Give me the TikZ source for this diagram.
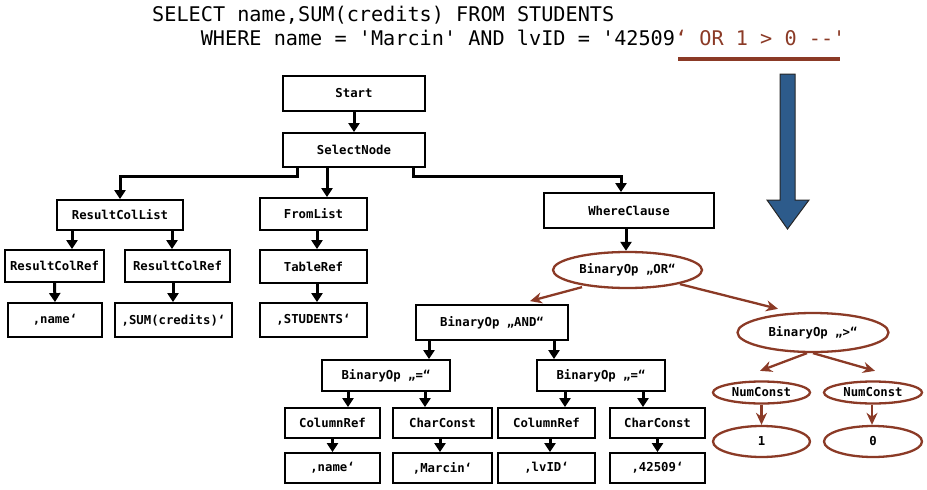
\documentclass[tikz,border=0pt]{standalone}
\usepackage{fontspec}
\setmonofont{DejaVu Sans Mono}
\usetikzlibrary{arrows.meta,shapes.geometric}
\definecolor{sqlred}{HTML}{8B3A26}
\definecolor{arrowblue}{HTML}{2D5B8B}
\begin{document}
\begin{tikzpicture}[x=1pt,y=-1pt,
  box/.style={draw=black,line width=1.8pt,fill=white,rectangle,inner sep=0pt,
    font=\ttfamily\bfseries\fontsize{12.3}{14}\selectfont},
  oval/.style={draw=sqlred,line width=2.3pt,fill=white,ellipse,inner sep=0pt,
    font=\ttfamily\bfseries\fontsize{12.3}{14}\selectfont},
  conn/.style={draw=black,line width=3pt,-{Triangle[length=9pt,width=11pt]}},
  redconn/.style={draw=sqlred,line width=2.3pt,-{Stealth[length=12pt,width=11pt]}},
  titletext/.style={anchor=base west,inner sep=0pt,
    font=\ttfamily\fontsize{20.2}{24}\selectfont}
]
\useasboundingbox (0,0) rectangle (927,490);

% title
\node[titletext] (t1) at (152,21.5) {SELECT name,SUM(credits) FROM STUDENTS};
\node[titletext] (t2) at (200.6,45) {WHERE name = 'Marcin' AND lvID = '42509\textcolor{sqlred}{‘ OR 1 > 0 --'}};
\draw[sqlred,line width=4pt] (678,59) -- (840,59);

% big blue arrow
\draw[fill=arrowblue,draw=black!85,line width=1pt]
  (780,74) -- (795,74) -- (795,200) -- (809,200) -- (787.5,229) -- (767,200) -- (780,200) -- cycle;

% boxes
\node[box,minimum width=142pt,minimum height=35pt] (start) at (354,93.5) {Start};
\node[box,minimum width=142pt,minimum height=34pt] (select) at (354,150) {SelectNode};
\node[box,minimum width=126pt,minimum height=30pt] (rclist) at (120,215) {ResultColList};
\node[box,minimum width=99pt,minimum height=32pt] (rcref1) at (54.5,266) {ResultColRef};
\node[box,minimum width=105pt,minimum height=32pt] (rcref2) at (177.5,266) {ResultColRef};
\node[box,minimum width=94pt,minimum height=34pt] (vname1) at (55,320) {‚name‘};
\node[box,minimum width=117pt,minimum height=34pt] (vsum) at (173.5,320) {‚SUM(credits)‘};
\node[box,minimum width=107pt,minimum height=32pt] (fromlist) at (313.5,214) {FromList};
\node[box,minimum width=107pt,minimum height=33pt] (tableref) at (313.5,266.5) {TableRef};
\node[box,minimum width=107pt,minimum height=34pt] (vstud) at (313.5,320) {‚STUDENTS‘};
\node[box,minimum width=170pt,minimum height=35pt] (where) at (629,210.5) {WhereClause};
\node[oval,minimum width=149pt,minimum height=36pt] (opor) at (627.5,270) {BinaryOp „OR“};
\node[box,minimum width=152pt,minimum height=35pt] (opand) at (492,322.5) {BinaryOp „AND“};
\node[oval,minimum width=151pt,minimum height=39pt] (opgt) at (813,332.5) {BinaryOp „>“};
\node[box,minimum width=128pt,minimum height=31pt] (eq1) at (386,375.5) {BinaryOp „=“};
\node[box,minimum width=128pt,minimum height=31pt] (eq2) at (601,375.5) {BinaryOp „=“};
\node[box,minimum width=95pt,minimum height=30pt] (colref1) at (332.5,423) {ColumnRef};
\node[box,minimum width=99pt,minimum height=30pt] (cc1) at (442.5,423) {CharConst};
\node[box,minimum width=97pt,minimum height=30pt] (colref2) at (546.5,423) {ColumnRef};
\node[box,minimum width=95pt,minimum height=30pt] (cc2) at (657.5,423) {CharConst};
\node[box,minimum width=95pt,minimum height=30pt] (vname2) at (332.5,468) {‚name‘};
\node[box,minimum width=99pt,minimum height=30pt] (vmarcin) at (442.5,468) {‚Marcin‘};
\node[box,minimum width=97pt,minimum height=30pt] (vlvid) at (546.5,468) {‚lvID‘};
\node[box,minimum width=95pt,minimum height=30pt] (v42509) at (657.5,468) {‚42509‘};
\node[oval,minimum width=97pt,minimum height=22pt] (num1) at (761.5,392.5) {NumConst};
\node[oval,minimum width=98pt,minimum height=22pt] (num2) at (873,392.5) {NumConst};
\node[oval,minimum width=97pt,minimum height=31pt] (one) at (761.5,441.5) {1};
\node[oval,minimum width=98pt,minimum height=31pt] (zero) at (873,441.5) {0};

% black connectors
\draw[conn] (start.south) -- (select.north);
\draw[conn] ([xshift=-57pt]select.south) -- ++(0,9) -| ([xshift=0pt]rclist.north);
\draw[conn] ([xshift=-27pt]select.south) -- ([xshift=13.5pt]fromlist.north);
\draw[conn] ([xshift=59pt]select.south) -- ++(0,9) -| ([xshift=-8pt]where.north);
\draw[conn] ([xshift=-48pt]rclist.south) -- ([xshift=17.5pt]rcref1.north);
\draw[conn] ([xshift=52pt]rclist.south) -- ([xshift=-5.5pt]rcref2.north);
\draw[conn] (rcref1.south) -- (vname1.north);
\draw[conn] ([xshift=-4.5pt]rcref2.south) -- ([xshift=-0.5pt]vsum.north);
\draw[conn] ([xshift=3.5pt]fromlist.south) -- ([xshift=3.5pt]tableref.north);
\draw[conn] ([xshift=3.5pt]tableref.south) -- ([xshift=3.5pt]vstud.north);
\draw[conn] ([xshift=-3pt]where.south) -- ([xshift=-1.5pt]opor.north);
\draw[conn] ([xshift=-63pt]opand.south) -- ([xshift=43pt]eq1.north);
\draw[conn] ([xshift=62pt]opand.south) -- ([xshift=-47pt]eq2.north);
\draw[conn] ([xshift=-38pt]eq1.south) -- ([xshift=15.5pt]colref1.north);
\draw[conn] ([xshift=39pt]eq1.south) -- ([xshift=-17.5pt]cc1.north);
\draw[conn] ([xshift=-36pt]eq2.south) -- ([xshift=18.5pt]colref2.north);
\draw[conn] ([xshift=42pt]eq2.south) -- ([xshift=-14.5pt]cc2.north);
\draw[conn] (colref1.south) -- (vname2.north);
\draw[conn] ([xshift=-2.5pt]cc1.south) -- ([xshift=-2.5pt]vmarcin.north);
\draw[conn] ([xshift=3.5pt]colref2.south) -- ([xshift=3.5pt]vlvid.north);
\draw[conn] (cc2.south) -- (v42509.north);

% red connectors
\draw[redconn] ([xshift=-45.5pt,yshift=2pt]opor.south) -- ([xshift=38pt,yshift=3pt]opand.north);
\draw[redconn] ([xshift=52.5pt,yshift=5pt]opor.south) -- ([xshift=-35pt,yshift=3pt]opgt.north);
\draw[redconn] ([xshift=-6pt]opgt.south) -- ([xshift=-1.5pt,yshift=9.5pt]num1.north);
\draw[redconn] (opgt.south) -- ([xshift=2pt,yshift=9.5pt]num2.north);
\draw[redconn] (num1.south) -- (one.north);
\draw[redconn] ([xshift=-1pt]num2.south) -- ([xshift=-1pt]zero.north);
\end{tikzpicture}
\end{document}
